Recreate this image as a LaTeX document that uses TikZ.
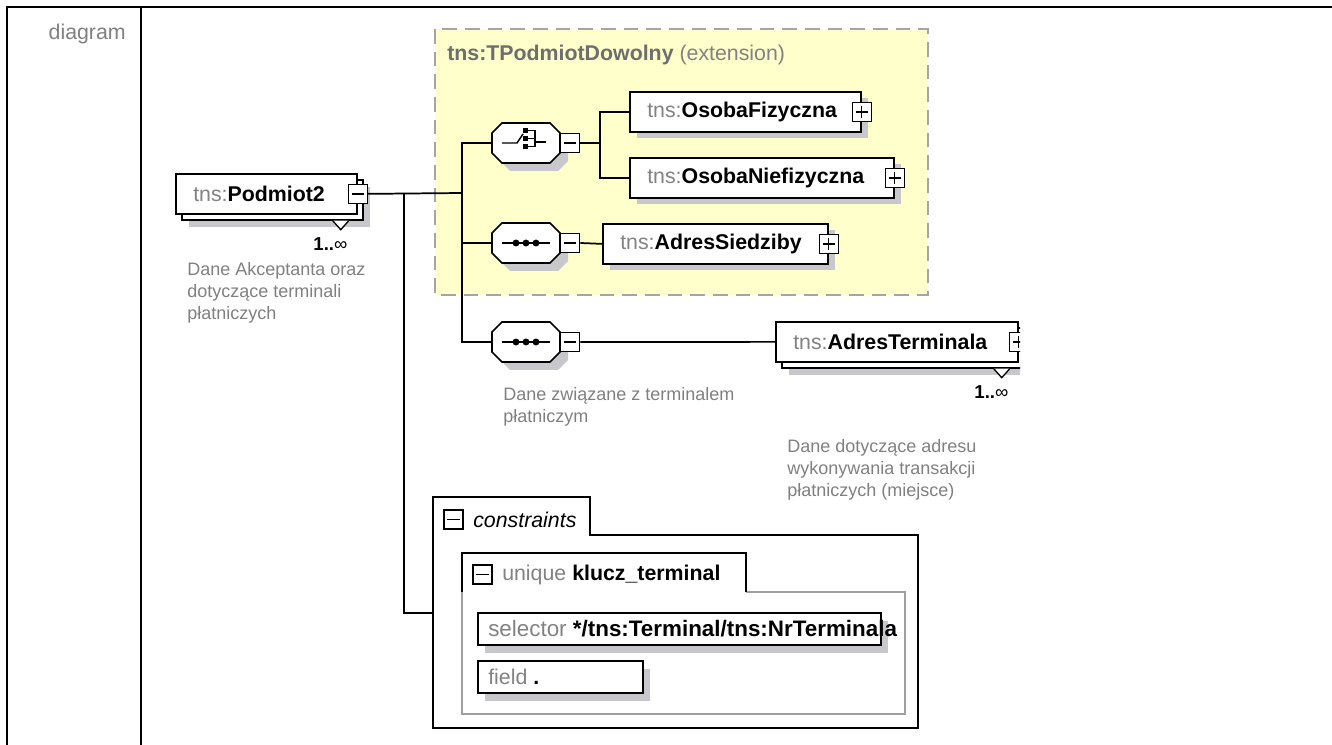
\documentclass[tikz,border=0pt]{standalone}
\usepackage{fontspec}
\setmainfont{Liberation Sans}
\usetikzlibrary{calc}

\definecolor{shadowgray}{RGB}{200,200,204}
\definecolor{extyellow}{RGB}{255,255,204}
\definecolor{dashgray}{RGB}{165,165,165}
\definecolor{nsgray}{RGB}{130,130,130}
\definecolor{docgray}{RGB}{128,128,128}
\definecolor{titlegray}{RGB}{110,110,110}
\definecolor{innergray}{RGB}{160,160,160}

\tikzset{
  frame/.style={line width=1.8pt},
  conn/.style={line width=1.3pt},
  elbox/.style={draw=black, fill=white, line width=1.3pt, inner sep=0pt, anchor=north west, minimum height=40*0.75pt},
  shadowbox/.style={fill=shadowgray, inner sep=0pt, anchor=north west, minimum height=40*0.75pt},
  lbl/.style={font=\fontsize{16}{19}\selectfont, anchor=west, inner sep=0pt},
  doc/.style={font=\fontsize{13.5}{16.5}\selectfont, text=docgray, align=left, anchor=north west, inner sep=0pt},
  occ/.style={font=\fontsize{14}{16}\selectfont, inner sep=0pt},
  pmbox/.style={draw=black, fill=white, line width=1pt, minimum size=19*0.75pt, inner sep=0pt},
  minus/.style={pmbox, path picture={
      \draw[line width=1pt] ([xshift=2.5pt]path picture bounding box.west) -- ([xshift=-2.5pt]path picture bounding box.east);}},
  plus/.style={pmbox, path picture={
      \draw[line width=1pt] ([xshift=2.5pt]path picture bounding box.west) -- ([xshift=-2.5pt]path picture bounding box.east);
      \draw[line width=1pt] ([yshift=-2.5pt]path picture bounding box.north) -- ([yshift=2.5pt]path picture bounding box.south);}},
  compframe/.style={inner sep=0pt, minimum width=68*0.75pt, minimum height=40*0.75pt},
  icon/.style={line width=1.1pt},
}

% element: name, x, y (top left), width, label, plus/minus
\newcommand{\xelem}[6]{%
  \node[shadowbox, minimum width=#4*0.75pt] at (#2+8,#3+7) {};
  \node[elbox, minimum width=#4*0.75pt] (#1) at (#2,#3) {};
  \node[lbl] (#1-t) at ($(#1.west)+(18,0)$) {\textcolor{nsgray}{tns:}\textbf{#5}};
  \node[#6] (#1-pm) at (#1.east) {};
}
% repeated element 1..oo
\newcommand{\xelemrep}[6]{%
  \node[shadowbox, minimum width=#4*0.75pt] at (#2+14,#3+14) {};
  \node[elbox, minimum width=#4*0.75pt] (#1-back) at (#2+6,#3+6) {};
  \node[elbox, minimum width=#4*0.75pt] (#1) at (#2,#3) {};
  \node[lbl] (#1-t) at ($(#1.west)+(18,0)$) {\textcolor{nsgray}{tns:}\textbf{#5}};
  \node[#6] (#1-pm) at (#1.east) {};
  \draw[line width=1pt, fill=white] ($(#1-back.south east)+(-31,0)$) -- ++(8,9) -- ++(8,-9);
  \node[occ, anchor=east] (#1-occ) at ($(#1-back.south east)+(-16,23)$) {\textbf{1..}∞};
}
% octagon outline round a centre
\newcommand{\octpath}[2]{(#1-34,#2-10) -- (#1-24,#2-20) -- (#1+24,#2-20) -- (#1+34,#2-10) -- (#1+34,#2+10) -- (#1+24,#2+20) -- (#1-24,#2+20) -- (#1-34,#2+10) -- cycle}
% compositor: name, center x, center y
\newcommand{\xcomp}[3]{%
  \fill[shadowgray] \octpath{#2+8}{#3+8};
  \draw[line width=1.3pt, fill=white] \octpath{#2}{#3};
  \node[compframe] (#1) at (#2,#3) {};
  \node[minus] (#1-pm) at ($(#1.east)+(10,0)$) {};
}

\begin{document}
\begin{tikzpicture}[x=0.75pt, y=-0.75pt]
\useasboundingbox (0,0) rectangle (1332,745);

% table frame
\draw[frame] (7,745) -- (7,7) -- (1332,7);
\draw[frame] (141,7) -- (141,745);
\node[lbl, anchor=east, text=docgray] (diag) at (126,34) {diagram};

% extension area
\draw[draw=dashgray, fill=extyellow, line width=1.2pt, dash pattern=on 11pt off 6pt] (435,29) rectangle (928,295);
\node[lbl] (ext) at (447,55) {\textcolor{titlegray}{\textbf{tns:TPodmiotDowolny}} \textcolor{nsgray}{(extension)}};

% elements
\xelemrep{pod}{175}{173}{181}{Podmiot2}{minus}
\xelem{ofiz}{629}{91}{231}{OsobaFizyczna}{plus}
\xelem{onief}{629}{157}{264}{OsobaNiefizyczna}{plus}
\xelem{asiedz}{602}{223}{225}{AdresSiedziby}{plus}
\begin{scope}
  \clip (0,0) rectangle (1020,745);
  \xelemrep{aterm}{775}{321}{242}{AdresTerminala}{plus}
\end{scope}

% compositors
\xcomp{choice}{526}{143}
\xcomp{seqa}{526}{243}
\xcomp{seqb}{526}{342}

\begin{scope}[shift={(choice.center)}]
  \draw[icon] (-24,0) -- (-9,0) -- (-3,-9);
  \fill (-3,-15) rectangle (2,-10);
  \fill (-3,-7) rectangle (2,-2);
  \fill (-3,1) rectangle (2,6);
  \draw[icon] (2,-12.5) -- (9,-12.5) -- (9,3.5) -- (2,3.5);
  \draw[icon] (2,-4.5) -- (9,-4.5);
  \draw[icon] (9,-1) -- (20,-1);
\end{scope}
\foreach \seq in {seqa,seqb}{
  \begin{scope}[shift={(\seq.center)}]
    \draw[icon] (-24,0) -- (24,0);
    \foreach \dx in {-10,0,10} \fill (\dx,0) circle (2.6pt);
  \end{scope}
}

% connectors
\coordinate (ja) at (404,193);
\coordinate (jb) at (462,193);
\coordinate (jc) at (600,143);
\coordinate (cons) at (433,613);
\draw[conn] (pod-pm.east) -- (jb);
\draw[conn] (ja) |- (cons);
\draw[conn] (choice.west) -| (jb) |- (seqb.west);
\draw[conn] (seqa.west) -- (seqa.west -| jb);
\draw[conn] (choice-pm.east) -- (jc);
\draw[conn] (ofiz.west) -| (jc) |- (onief.west);
\draw[conn] (seqa-pm.east) -- (asiedz.west);
\draw[conn] (seqb-pm.east) -- (aterm.west);

% annotations
\node[doc] (pod-doc) at (187,262) {Dane Akceptanta oraz\\dotyczące terminali\\płatniczych};
\node[doc] (seqb-doc) at (503,387) {Dane związane z terminalem\\płatniczym};
\node[doc] (aterm-doc) at (787,439) {Dane dotyczące adresu\\wykonywania transakcji\\płatniczych (miejsce)};

% constraints
\draw[line width=1.3pt] (433,497) -- (590,497) -- (590,535) -- (918,535) -- (918,728) -- (433,728) -- cycle;
\node[minus] (cons-pm) at (453.5,519.5) {};
\node[lbl] (cons-t) at (473,520) {\itshape constraints};
\draw[line width=1.1pt, draw=innergray] (746,592) -- (905,592) -- (905,714) -- (462,714) -- (462,592);
\draw[line width=1.3pt] (462,592) -- (462,553) -- (746,553) -- (746,592);
\node[minus] (uniq-pm) at (482.5,574.5) {};
\node[lbl] (uniq-t) at (502,575) {\textcolor{nsgray}{unique} \textbf{klucz\_terminal}};

\node[shadowbox, minimum width=403*0.75pt, minimum height=32*0.75pt] at (485,621) {};
\node[elbox, minimum width=403*0.75pt, minimum height=32*0.75pt] (sel) at (477,612) {};
\node[lbl, font=\fontsize{16.8}{19}\selectfont] (sel-t) at ($(sel.west)+(11,0)$) {\textcolor{nsgray}{selector} \textbf{*/tns:Terminal/tns:NrTerminala}};
\node[shadowbox, minimum width=165*0.75pt, minimum height=32*0.75pt] at (485,669) {};
\node[elbox, minimum width=165*0.75pt, minimum height=32*0.75pt] (fld) at (477,660) {};
\node[lbl] (fld-t) at ($(fld.west)+(11,0)$) {\textcolor{nsgray}{field} \textbf{.}};
\end{tikzpicture}
\end{document}
